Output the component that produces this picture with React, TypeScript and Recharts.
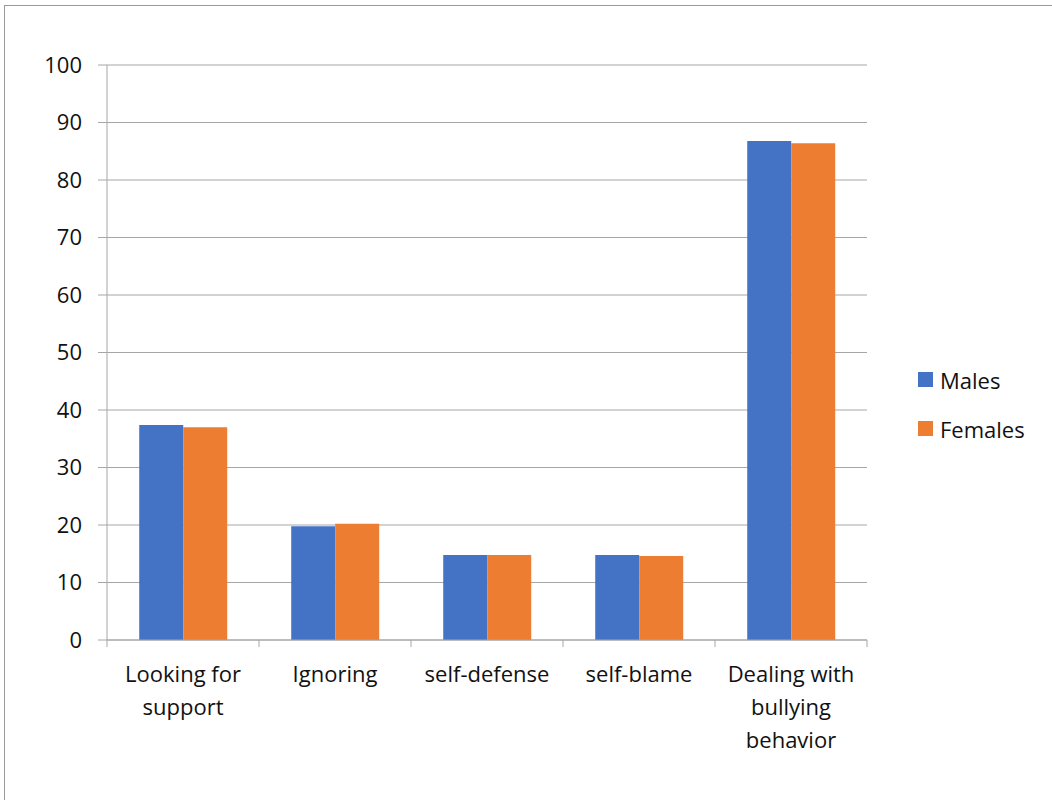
import React from 'react';
import { BarChart, Bar, XAxis, YAxis, CartesianGrid, Text } from 'recharts';

const categories = ['Looking for support', 'Ignoring', 'self-defense', 'self-blame', 'Dealing with bullying behavior'];
const males = [37.4, 19.8, 14.8, 14.8, 86.8];
const females = [37.0, 20.2, 14.8, 14.6, 86.4];
const yTicks = [0, 10, 20, 30, 40, 50, 60, 70, 80, 90, 100];

const data = categories.map((name, i) => ({ name, Males: males[i], Females: females[i] }));

const FONT = '"Open Sans", "Noto Sans", sans-serif';
const AXIS_GRAY = '#A6A6A6';
const BLUE = '#4472C4';
const ORANGE = '#ED7D31';
const series = [
  { key: 'Males', color: BLUE },
  { key: 'Females', color: ORANGE },
];

const labelStyle = { fontSize: 22, fontFamily: FONT };

// Category label with wrapped text plus tick marks on the category boundaries
const CategoryTick = (props: any) => {
  const { x, y, payload, index, visibleTicksCount } = props;
  const half = payload && payload.offset ? payload.offset : 76;
  const last = index === visibleTicksCount - 1;
  return (
    <g>
      <line x1={x - half} x2={x - half} y1={y} y2={y + 7} stroke={AXIS_GRAY} strokeWidth={1} />
      {last && <line x1={x + half} x2={x + half} y1={y} y2={y + 7} stroke={AXIS_GRAY} strokeWidth={1} />}
      <Text
        x={x}
        y={y + 26}
        width={120}
        textAnchor="middle"
        verticalAnchor="start"
        lineHeight={33}
        style={labelStyle}
        fill="#111"
      >
        {payload.value}
      </Text>
    </g>
  );
};

export default function App() {
  return (
    <div style={{ position: 'absolute', left: 0, top: 0, width: 1052, height: 800, overflow: 'hidden', background: '#fff' }}>
      <div style={{ position: 'absolute', left: 4, top: 5, width: 1100, height: 900, border: '1px solid #999', boxSizing: 'border-box' }} />
      <div style={{ position: 'absolute', left: 0, top: 0 }}>
        <BarChart
          width={1052}
          height={800}
          data={data}
          margin={{ top: 65, right: 185, left: 0, bottom: 0 }}
          barCategoryGap="21.2%"
          barGap={0}
        >
          <CartesianGrid vertical={false} stroke={AXIS_GRAY} strokeWidth={1} />
          <XAxis
            dataKey="name"
            height={160}
            interval={0}
            tickLine={false}
            tickSize={0}
            tickMargin={0}
            axisLine={{ stroke: AXIS_GRAY }}
            tick={<CategoryTick />}
          />
          <YAxis
            width={107}
            domain={[0, 100]}
            ticks={yTicks}
            interval={0}
            tickSize={9}
            tickMargin={16}
            axisLine={{ stroke: AXIS_GRAY }}
            tickLine={{ stroke: AXIS_GRAY }}
            tick={{ fontSize: 22, fontFamily: FONT, fill: '#111' }}
          />
          {series.map((s) => (
            <Bar key={s.key} dataKey={s.key} fill={s.color} isAnimationActive={false} />
          ))}
        </BarChart>
      </div>
      <div style={{ position: 'absolute', left: 918, top: 355, fontFamily: FONT, fontSize: 22, color: '#111' }}>
        {series.map((s) => (
          <div key={s.key} style={{ display: 'flex', alignItems: 'center', height: 49 }}>
            <span style={{ display: 'inline-block', width: 15, height: 15, background: s.color, marginRight: 7 }} />
            <span>{s.key}</span>
          </div>
        ))}
      </div>
    </div>
  );
}
